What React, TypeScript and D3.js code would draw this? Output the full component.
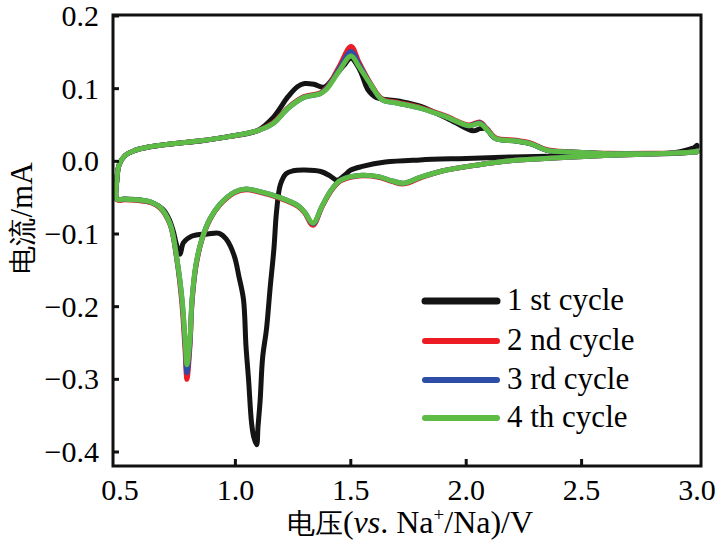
import React from 'react';
import * as d3 from 'd3';

type P = [number, number];

const xTicks = [0.5, 1.0, 1.5, 2.0, 2.5, 3.0];
const yTicks = [0.2, 0.1, 0.0, -0.1, -0.2, -0.3, -0.4];
const cycleNames = ['1 st cycle', '2 nd cycle', '3 rd cycle', '4 th cycle'];
const cycleColors = ['#141414', '#ED1C24', '#2E4DA6', '#5DBB46'];

// [voltage V, current mA]; cathodic sweep (3.0 -> 0.49) then anodic sweep (0.49 -> 3.0)
const cycle1: P[] = [
  [3.0, 0.020], [2.9, 0.012], [2.7, 0.010], [2.5, 0.008], [2.2, 0.006], [2.0, 0.004], [1.8, 0.002],
  [1.65, -0.001], [1.55, -0.007], [1.5, -0.012], [1.47, -0.02], [1.44, -0.026], [1.41, -0.02],
  [1.37, -0.014], [1.3, -0.012], [1.25, -0.013], [1.22, -0.017], [1.195, -0.032], [1.178, -0.07],
  [1.167, -0.12], [1.15, -0.176], [1.135, -0.23], [1.118, -0.27], [1.107, -0.33], [1.098, -0.365],
  [1.092, -0.39], [1.08, -0.38], [1.07, -0.36], [1.057, -0.30], [1.046, -0.255], [1.035, -0.19],
  [1.015, -0.158], [0.995, -0.13], [0.96, -0.107], [0.93, -0.099], [0.88, -0.100], [0.81, -0.103],
  [0.775, -0.112], [0.76, -0.128], [0.745, -0.115], [0.73, -0.095], [0.712, -0.079], [0.686, -0.066],
  [0.64, -0.057], [0.6, -0.054], [0.52, -0.052], [0.487, -0.052],
  [0.487, -0.024], [0.496, -0.005], [0.522, 0.008], [0.565, 0.015], [0.63, 0.020], [0.75, 0.025],
  [0.85, 0.028], [0.97, 0.034], [1.094, 0.042], [1.163, 0.060], [1.228, 0.089], [1.27, 0.103],
  [1.30, 0.107], [1.34, 0.106], [1.384, 0.102], [1.43, 0.117], [1.47, 0.132], [1.501, 0.142],
  [1.54, 0.125], [1.575, 0.098], [1.61, 0.088], [1.705, 0.083], [1.80, 0.076], [1.943, 0.055],
  [2.03, 0.042], [2.06, 0.045], [2.09, 0.045], [2.11, 0.036], [2.13, 0.031], [2.216, 0.028],
  [2.281, 0.024], [2.35, 0.015], [2.45, 0.013], [2.62, 0.0105], [2.79, 0.0105], [2.96, 0.013],
  [3.0, 0.022],
];

const cycle2: P[] = [
  [3.0, 0.013], [2.8, 0.010], [2.6, 0.008], [2.4, 0.005], [2.2, 0.001], [2.05, -0.005], [1.9, -0.013],
  [1.8, -0.023], [1.73, -0.031], [1.68, -0.028], [1.62, -0.022], [1.55, -0.020], [1.5, -0.022],
  [1.45, -0.028], [1.41, -0.043], [1.375, -0.063], [1.336, -0.088], [1.30, -0.071], [1.271, -0.062],
  [1.185, -0.050], [1.098, -0.042], [1.046, -0.039], [0.998, -0.043], [0.933, -0.060], [0.89, -0.080],
  [0.855, -0.108], [0.829, -0.145], [0.812, -0.195], [0.803, -0.255], [0.790, -0.300], [0.781, -0.255],
  [0.768, -0.195], [0.747, -0.137], [0.717, -0.087], [0.673, -0.064], [0.634, -0.057], [0.58, -0.054],
  [0.52, -0.053], [0.487, -0.053],
  [0.487, -0.024], [0.496, -0.005], [0.522, 0.008], [0.565, 0.015], [0.63, 0.020], [0.75, 0.025],
  [0.838, 0.028], [0.972, 0.034], [1.094, 0.042], [1.163, 0.053], [1.228, 0.074], [1.297, 0.089],
  [1.367, 0.094], [1.397, 0.102], [1.449, 0.130], [1.501, 0.158], [1.536, 0.136], [1.588, 0.106],
  [1.635, 0.086], [1.705, 0.081], [1.804, 0.074], [1.908, 0.063], [2.012, 0.050], [2.06, 0.054],
  [2.094, 0.043], [2.129, 0.032], [2.216, 0.029], [2.281, 0.025], [2.35, 0.016], [2.454, 0.013],
  [2.623, 0.011], [2.792, 0.011], [2.96, 0.012], [3.0, 0.014],
];

const cycle3: P[] = [
  [3.0, 0.013], [2.8, 0.010], [2.6, 0.008], [2.4, 0.005], [2.2, 0.001], [2.05, -0.005], [1.9, -0.013],
  [1.8, -0.022], [1.73, -0.030], [1.68, -0.027], [1.62, -0.021], [1.55, -0.019], [1.5, -0.021],
  [1.45, -0.027], [1.41, -0.042], [1.375, -0.062], [1.336, -0.086], [1.30, -0.070], [1.271, -0.061],
  [1.185, -0.049], [1.098, -0.041], [1.046, -0.038], [0.998, -0.042], [0.933, -0.059], [0.89, -0.079],
  [0.855, -0.107], [0.829, -0.143], [0.812, -0.192], [0.803, -0.250], [0.790, -0.291], [0.782, -0.250],
  [0.769, -0.192], [0.747, -0.136], [0.717, -0.086], [0.673, -0.063], [0.634, -0.056], [0.58, -0.053],
  [0.52, -0.052], [0.487, -0.052],
  [0.487, -0.024], [0.496, -0.005], [0.522, 0.008], [0.565, 0.015], [0.63, 0.020], [0.75, 0.025],
  [0.838, 0.028], [0.972, 0.034], [1.094, 0.042], [1.163, 0.052], [1.228, 0.073], [1.297, 0.088],
  [1.367, 0.093], [1.397, 0.101], [1.449, 0.127], [1.501, 0.151], [1.536, 0.133], [1.588, 0.105],
  [1.635, 0.085], [1.705, 0.080], [1.804, 0.073], [1.908, 0.062], [2.012, 0.049], [2.06, 0.053],
  [2.094, 0.042], [2.129, 0.031], [2.216, 0.028], [2.281, 0.024], [2.35, 0.015], [2.454, 0.013],
  [2.623, 0.0105], [2.792, 0.0105], [2.96, 0.012], [3.0, 0.014],
];

const cycle4: P[] = [
  [3.0, 0.013], [2.8, 0.010], [2.6, 0.008], [2.4, 0.005], [2.2, 0.001], [2.05, -0.005], [1.9, -0.013],
  [1.8, -0.022], [1.73, -0.030], [1.68, -0.027], [1.62, -0.021], [1.55, -0.019], [1.5, -0.021],
  [1.45, -0.027], [1.41, -0.042], [1.375, -0.062], [1.336, -0.085], [1.30, -0.070], [1.271, -0.061],
  [1.185, -0.049], [1.098, -0.041], [1.046, -0.038], [0.998, -0.042], [0.933, -0.059], [0.89, -0.079],
  [0.855, -0.107], [0.829, -0.142], [0.812, -0.19], [0.803, -0.245], [0.790, -0.28], [0.782, -0.245],
  [0.769, -0.19], [0.747, -0.135], [0.717, -0.086], [0.673, -0.063], [0.634, -0.056], [0.58, -0.053],
  [0.52, -0.052], [0.487, -0.052],
  [0.487, -0.024], [0.496, -0.005], [0.522, 0.008], [0.565, 0.015], [0.63, 0.020], [0.75, 0.025],
  [0.838, 0.028], [0.972, 0.034], [1.094, 0.042], [1.163, 0.052], [1.228, 0.073], [1.297, 0.088],
  [1.367, 0.093], [1.397, 0.100], [1.449, 0.124], [1.501, 0.145], [1.536, 0.130], [1.588, 0.105],
  [1.635, 0.085], [1.705, 0.080], [1.804, 0.073], [1.908, 0.062], [2.012, 0.049], [2.06, 0.052],
  [2.094, 0.042], [2.129, 0.031], [2.216, 0.028], [2.281, 0.024], [2.35, 0.015], [2.454, 0.013],
  [2.623, 0.0105], [2.792, 0.0105], [2.96, 0.012], [3.0, 0.014],
];

const cycles = [cycle1, cycle2, cycle3, cycle4];

const W = 718;
const H = 542;
const frame = { left: 113, right: 701, top: 15, bottom: 466 };
const LAT = 'Liberation Serif';

export default function App() {
  const x = d3.scaleLinear().domain([0.5, 3.0]).range([120, 697]);
  const y = d3.scaleLinear().domain([-0.4, 0.2]).range([452, 16]);
  const line = d3
    .line<P>()
    .x((d) => x(d[0]))
    .y((d) => y(d[1]))
    .curve(d3.curveCatmullRom.alpha(0.5));

  const legendY = [301, 341, 380, 418];

  return (
    <svg width={W} height={H} style={{ position: 'absolute', left: 0, top: 0, background: '#fff' }}>
      <rect x={0} y={0} width={W} height={H} fill="#fff" />
      <g fill="none" strokeLinejoin="round" strokeLinecap="round">
        {cycles.map((c, i) => (
          <path key={i} d={line(c) || ''} stroke={cycleColors[i]} strokeWidth={5} />
        ))}
      </g>
      <rect
        x={frame.left}
        y={frame.top}
        width={frame.right - frame.left}
        height={frame.bottom - frame.top}
        fill="none"
        stroke="#111"
        strokeWidth={3}
      />
      {yTicks.map((t) => (
        <g key={'y' + t}>
          <line x1={frame.left} x2={frame.left + 6} y1={y(t)} y2={y(t)} stroke="#111" strokeWidth={3} />
          <text x={99} y={y(t) + 10} textAnchor="end" fontSize={30} fontFamily={LAT}>
            {t < 0 ? '\u2212' + Math.abs(t).toFixed(1) : t.toFixed(1)}
          </text>
        </g>
      ))}
      {xTicks.map((t) => (
        <g key={'x' + t}>
          {t > 0.5 && t < 3.0 && (
            <line x1={x(t)} x2={x(t)} y1={frame.bottom} y2={frame.bottom - 7} stroke="#111" strokeWidth={3} />
          )}
          <text x={x(t)} y={500} textAnchor="middle" fontSize={30} fontFamily={LAT}>
            {t.toFixed(1)}
          </text>
        </g>
      ))}
      <text x={410} y={533} textAnchor="middle" fontSize={32} fontFamily={LAT}>
        <tspan fontSize={28}>电压</tspan>
        <tspan>(</tspan>
        <tspan fontStyle="italic">vs</tspan>
        <tspan>. Na</tspan>
        <tspan fontSize={19} dy={-12}>+</tspan>
        <tspan dy={12}>/Na)/V</tspan>
      </text>
      <text transform="translate(32, 218) rotate(-90)" textAnchor="middle" fontSize={31} fontFamily={LAT}>
        <tspan fontSize={28}>电流</tspan>
        <tspan>/mA</tspan>
      </text>
      {cycleNames.map((n, i) => (
        <g key={n}>
          <line
            x1={425}
            x2={497}
            y1={legendY[i]}
            y2={legendY[i]}
            stroke={cycleColors[i]}
            strokeWidth={i === 0 ? 7 : 6}
            strokeLinecap="round"
          />
          <text x={507} y={legendY[i] + 9} fontSize={31} fontFamily={LAT}>
            {n}
          </text>
        </g>
      ))}
    </svg>
  );
}
